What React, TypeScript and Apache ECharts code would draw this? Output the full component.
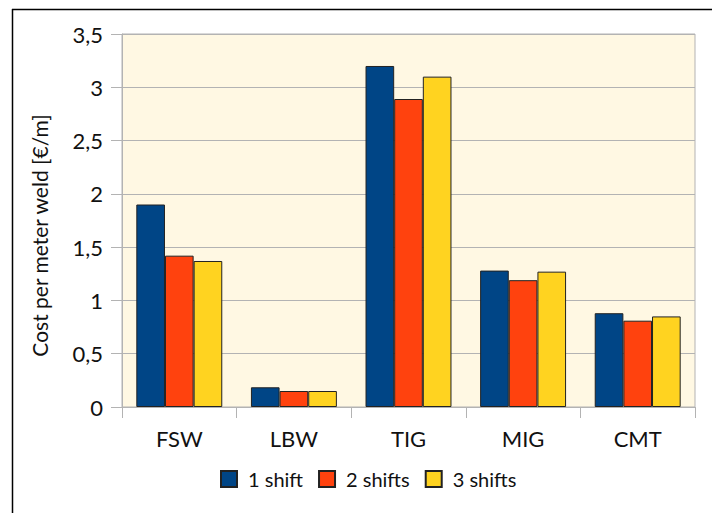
import React, { useEffect, useRef } from "react";
import * as echarts from "echarts";

const categories = ["FSW", "LBW", "TIG", "MIG", "CMT"];
const seriesNames = ["1 shift", "2 shifts", "3 shifts"];
const oneShift = [1.9, 0.185, 3.2, 1.28, 0.88];
const twoShifts = [1.42, 0.15, 2.89, 1.19, 0.81];
const threeShifts = [1.37, 0.15, 3.1, 1.27, 0.85];
const colors = ["#004586", "#ff420e", "#ffd320"];

const FONT = "Lato, 'Open Sans', sans-serif";

export default function App() {
  const ref = useRef<HTMLDivElement>(null);
  useEffect(() => {
    if (!ref.current) return;
    const chart = echarts.init(ref.current, undefined, { renderer: "svg" });
    const values = [oneShift, twoShifts, threeShifts];
    chart.setOption({
      animation: false,
      backgroundColor: "#ffffff",
      textStyle: { fontFamily: FONT },
      grid: {
        left: 122,
        top: 34,
        right: 17,
        bottom: 106,
        show: true,
        backgroundColor: "#fff8e3",
        borderColor: "#b3b3b3",
        borderWidth: 1,
      },
      legend: {
        bottom: 19,
        left: 215,
        itemWidth: 16,
        itemHeight: 16,
        itemGap: 15,
        icon: "rect",
        data: seriesNames,
        textStyle: {
          fontSize: 20,
          color: "#111",
          fontFamily: FONT,
          padding: [0, 0, 0, 6],
        },
      },
      xAxis: {
        type: "category",
        data: categories,
        axisLine: { show: true, lineStyle: { color: "#b3b3b3", width: 1 } },
        axisTick: { show: true, length: 11, lineStyle: { color: "#b3b3b3" } },
        axisLabel: { fontSize: 22, color: "#111", margin: 20, fontFamily: FONT },
      },
      yAxis: {
        type: "value",
        min: 0,
        max: 3.5,
        interval: 0.5,
        name: "Cost per meter weld [€/m]",
        nameLocation: "middle",
        nameGap: 72,
        nameTextStyle: {
          fontSize: 21,
          color: "#111",
          fontFamily: FONT,
          padding: [0, 30, 0, 0],
        },
        axisLine: { show: true, lineStyle: { color: "#b3b3b3", width: 1 } },
        axisTick: { show: true, length: 11, lineStyle: { color: "#b3b3b3" } },
        splitLine: { show: true, lineStyle: { color: "#b3b3b3", width: 1 } },
        axisLabel: {
          fontSize: 22,
          color: "#111",
          margin: 19,
          fontFamily: FONT,
          formatter: (v: number) => String(v).replace(".", ","),
        },
      },
      series: seriesNames.map((name, i) => ({
        name,
        type: "bar",
        data: values[i],
        barGap: "0%",
        barCategoryGap: "25%",
        itemStyle: { color: colors[i], borderColor: "#222", borderWidth: 1 },
      })),
      graphic: [
        {
          type: "line",
          shape: { x1: 12, y1: 9.5, x2: 712, y2: 9.5 },
          style: { stroke: "#000", lineWidth: 1.5 },
        },
        {
          type: "line",
          shape: { x1: 12.5, y1: 9, x2: 12.5, y2: 513 },
          style: { stroke: "#000", lineWidth: 1.5 },
        },
      ],
    });
    return () => chart.dispose();
  }, []);
  return (
    <div
      ref={ref}
      style={{ position: "fixed", left: 0, top: 0, width: 712, height: 513 }}
    />
  );
}
